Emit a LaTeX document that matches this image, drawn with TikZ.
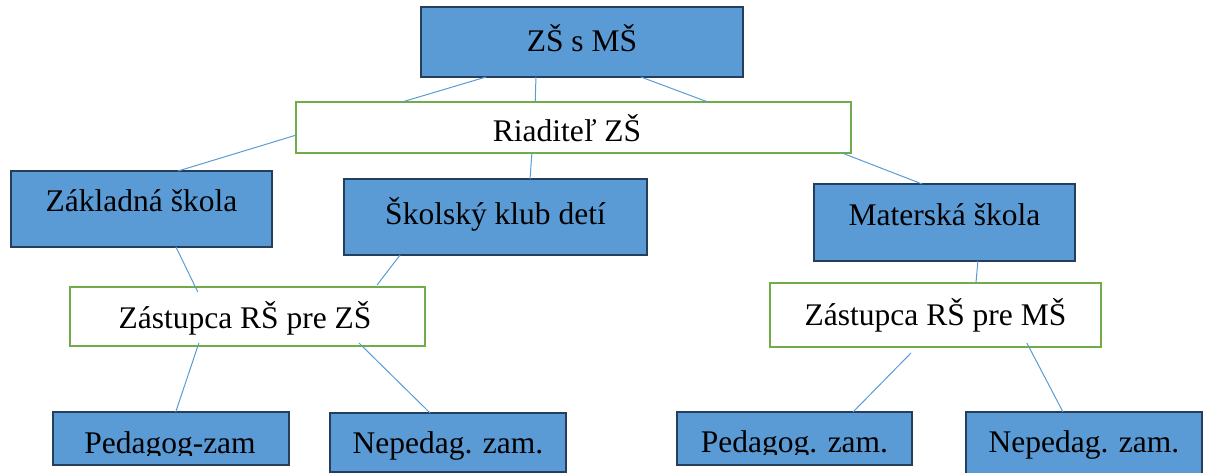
\documentclass[tikz,border=0pt]{standalone}
\usepackage{fontspec}
\setmainfont{Liberation Serif}
\usetikzlibrary{calc}
\definecolor{boxfill}{HTML}{5B9BD5}
\definecolor{boxline}{HTML}{253E5C}
\definecolor{greenline}{HTML}{70AD47}
\definecolor{conn}{HTML}{5B9BD5}
\tikzset{
  bluebox/.style={draw=boxline, fill=boxfill, line width=2.5pt, rectangle, inner sep=0pt, outer sep=0pt},
  greenbox/.style={draw=greenline, fill=white, line width=2.5pt, rectangle, inner sep=0pt, outer sep=0pt},
  txt/.style={inner sep=0pt, outer sep=0pt, anchor=base, font=\fontsize{31.5}{36}\selectfont},
  link/.style={draw=conn, line width=1pt},
}
\begin{document}
\begin{tikzpicture}[x=1pt, y=-1pt]
\useasboundingbox (0,0) rectangle (1205,473);
% boxes
\node[bluebox, minimum width=322pt, minimum height=70pt] (top) at (582,42) {};
\node[greenbox, minimum width=555pt, minimum height=51pt] (riad) at (573.5,127.5) {};
\node[bluebox, minimum width=261pt, minimum height=76pt] (zakl) at (141.5,209) {};
\node[bluebox, minimum width=303pt, minimum height=76pt] (skol) at (495.5,217) {};
\node[bluebox, minimum width=261pt, minimum height=77pt] (mat) at (944.5,222.5) {};
\node[greenbox, minimum width=355pt, minimum height=59pt] (zzs) at (247.5,316.5) {};
\node[greenbox, minimum width=331pt, minimum height=64pt] (zms) at (935.5,315) {};
\node[bluebox, minimum width=236pt, minimum height=53pt] (p1) at (171,438.5) {};
\node[bluebox, minimum width=236pt, minimum height=59pt] (n1) at (448,442.5) {};
\node[bluebox, minimum width=235pt, minimum height=53pt] (p2) at (794.5,438.5) {};
\node[bluebox, minimum width=236pt, minimum height=68pt] (n2) at (1084,446) {};
% texts
\node[txt] (ttop) at (582,52) {ZŠ s MŠ};
\node[txt] (triad) at (567,142) {Riaditeľ ZŠ};
\node[txt] (tzakl) at (141.5,212) {Základná škola};
\node[txt] (tskol) at (495.5,225) {Školský klub detí};
\node[txt] (tmat) at (944.5,226) {Materská škola};
\node[txt] (tzzs) at (245,328) {Zástupca RŠ pre ZŠ};
\node[txt] (tzms) at (935.5,325) {Zástupca RŠ pre MŠ};
\begin{scope}
  \clip (54,413) rectangle (289,455.5);
  \node[txt] (tp1) at (170,453) {Pedagog-zam};
\end{scope}
\node[txt] (tn1) at (448,453) {Nepedag. zam.};
\begin{scope}
  \clip (677,412) rectangle (912,454.5);
  \node[txt] (tp2) at (794.5,452) {Pedagog. zam.};
\end{scope}
\node[txt] (tn2) at (1084,452) {Nepedag. zam.};
% connectors
\draw[link] ($(top.south west)!0.202!(top.south east)$) -- ($(riad.north west)!0.191!(riad.north east)$);
\draw[link] ($(top.south west)!0.357!(top.south east)$) -- ($(riad.north west)!0.431!(riad.north east)$);
\draw[link] ($(top.south west)!0.683!(top.south east)$) -- ($(riad.north west)!0.742!(riad.north east)$);
\draw[link] ($(riad.north west)!0.65!(riad.south west)$) -- ($(zakl.north west)!0.64!(zakl.north east)$);
\draw[link] ($(riad.south west)!0.425!(riad.south east)$) -- ($(skol.north west)!0.614!(skol.north east)$);
\draw[link] ($(riad.south west)!0.984!(riad.south east)$) -- ($(mat.north west)!0.414!(mat.north east)$);
\draw[link] ($(zakl.south west)!0.632!(zakl.south east)$) -- ($(zzs.north west)!0.36!(zzs.north east)+(0,5)$);
\draw[link] ($(skol.south west)!0.185!(skol.south east)$) -- ($(zzs.north west)!0.865!(zzs.north east)+(0,-2)$);
\draw[link] ($(zzs.south west)!0.363!(zzs.south east)+(0,-3)$) -- ($(p1.north west)!0.52!(p1.north east)$);
\draw[link] ($(zzs.south west)!0.814!(zzs.south east)+(0,-3)$) -- ($(n1.north west)!0.424!(n1.north east)$);
\draw[link] ($(mat.south west)!0.628!(mat.south east)$) -- ($(zms.north west)!0.622!(zms.north east)+(0,1)$);
\draw[link] ($(zms.south west)!0.426!(zms.south east)+(0,6)$) -- ($(p2.north west)!0.749!(p2.north east)$);
\draw[link] ($(zms.south west)!0.776!(zms.south east)+(0,-4)$) -- ($(n2.north west)!0.411!(n2.north east)$);
\end{tikzpicture}
\end{document}
